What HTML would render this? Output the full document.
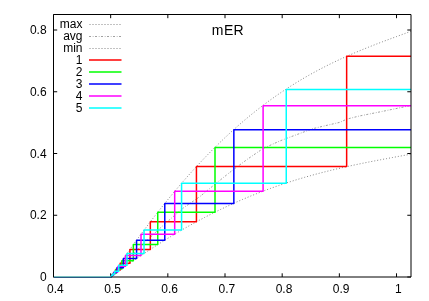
<!DOCTYPE html>
<html><head><meta charset="utf-8"><title>mER</title>
<style>
html,body{margin:0;padding:0;background:#fff;}
body{width:429px;height:301px;overflow:hidden;}
svg{display:block;will-change:transform;}
text{font-family:"Liberation Sans",sans-serif;fill:#000;}
</style></head><body>
<svg width="429" height="301" viewBox="0 0 429 301">
<rect width="429" height="301" fill="#fff"/>
<g stroke="#000" stroke-width="1" fill="none">
<path d="M53.50 277.00V273.30M53.50 14.50V18.20"/>
<path d="M110.67 277.00V273.30M110.67 14.50V18.20"/>
<path d="M167.84 277.00V273.30M167.84 14.50V18.20"/>
<path d="M225.01 277.00V273.30M225.01 14.50V18.20"/>
<path d="M282.18 277.00V273.30M282.18 14.50V18.20"/>
<path d="M339.35 277.00V273.30M339.35 14.50V18.20"/>
<path d="M396.52 277.00V273.30M396.52 14.50V18.20"/>
<path d="M53.50 277.00H57.20M411.00 277.00H407.30"/>
<path d="M53.50 215.25H57.20M411.00 215.25H407.30"/>
<path d="M53.50 153.50H57.20M411.00 153.50H407.30"/>
<path d="M53.50 91.75H57.20M411.00 91.75H407.30"/>
<path d="M53.50 30.00H57.20M411.00 30.00H407.30"/>
</g>
<g fill="none" stroke="#858585" stroke-width="1">
<polyline stroke-dasharray="1 2" points="53.50,277.00 110.70,277.00 112.70,274.06 114.70,271.14 116.70,268.23 118.70,265.34 120.70,262.46 122.70,259.60 124.70,256.75 126.70,253.93 128.70,251.11 130.70,248.32 132.70,245.54 134.70,242.78 136.70,240.03 138.70,237.31 140.70,234.60 142.70,231.91 144.70,229.23 146.70,226.58 148.70,223.94 150.70,221.32 152.70,218.72 154.70,216.14 156.70,213.57 158.70,211.03 160.70,208.50 162.70,205.99 164.70,203.50 166.70,201.03 168.70,198.58 170.70,196.15 172.70,193.73 174.70,191.34 176.70,188.97 178.70,186.61 180.70,184.28 182.70,181.96 184.70,179.67 186.70,177.39 188.70,175.13 190.70,172.90 192.70,170.68 194.70,168.49 196.70,166.31 198.70,164.15 200.70,162.02 202.70,159.90 204.70,157.80 206.70,155.73 208.70,153.67 210.70,151.63 212.70,149.62 214.70,147.62 216.70,145.64 218.70,143.69 220.70,141.75 222.70,139.84 224.70,137.94 226.70,136.06 228.70,134.21 230.70,132.37 232.70,130.55 234.70,128.76 236.70,126.98 238.70,125.22 240.70,123.48 242.70,121.76 244.70,120.07 246.70,118.39 248.70,116.73 250.70,115.08 252.70,113.46 254.70,111.86 256.70,110.28 258.70,108.71 260.70,107.16 262.70,105.64 264.70,104.13 266.70,102.64 268.70,101.16 270.70,99.71 272.70,98.27 274.70,96.86 276.70,95.45 278.70,94.07 280.70,92.71 282.70,91.36 284.70,90.03 286.70,88.72 288.70,87.42 290.70,86.14 292.70,84.88 294.70,83.63 296.70,82.40 298.70,81.19 300.70,79.99 302.70,78.80 304.70,77.64 306.70,76.48 308.70,75.35 310.70,74.23 312.70,73.12 314.70,72.03 316.70,70.95 318.70,69.88 320.70,68.83 322.70,67.80 324.70,66.77 326.70,65.76 328.70,64.76 330.70,63.78 332.70,62.81 334.70,61.84 336.70,60.90 338.70,59.96 340.70,59.03 342.70,58.12 344.70,57.21 346.70,56.32 348.70,55.44 350.70,54.57 352.70,53.70 354.70,52.85 356.70,52.00 358.70,51.17 360.70,50.34 362.70,49.52 364.70,48.71 366.70,47.90 368.70,47.10 370.70,46.31 372.70,45.53 374.70,44.75 376.70,43.98 378.70,43.21 380.70,42.45 382.70,41.70 384.70,40.94 386.70,40.20 388.70,39.45 390.70,38.71 392.70,37.97 394.70,37.24 396.70,36.50 398.70,35.77 400.70,35.04 402.70,34.31 404.70,33.59 406.70,32.86 408.70,32.13 410.70,31.40 411.00,31.29"/>
<polyline stroke="#a0a0a0" stroke-dasharray="2 1.75 0.75 1.5" points="53.50,277.00 110.70,277.00 112.70,274.88 114.70,272.78 116.70,270.68 118.70,268.60 120.70,266.53 122.70,264.47 124.70,262.42 126.70,260.39 128.70,258.36 130.70,256.35 132.70,254.35 134.70,252.36 136.70,250.39 138.70,248.42 140.70,246.47 142.70,244.53 144.70,242.61 146.70,240.70 148.70,238.80 150.70,236.91 152.70,235.04 154.70,233.18 156.70,231.33 158.70,229.50 160.70,227.68 162.70,225.87 164.70,224.08 166.70,222.30 168.70,220.54 170.70,218.79 172.70,217.05 174.70,215.32 176.70,213.62 178.70,211.92 180.70,210.24 182.70,208.57 184.70,206.92 189.90,203.50 200.00,196.50 215.00,184.20 233.70,169.30 248.00,158.80 263.40,148.30 280.00,140.90 286.00,138.60 313.00,128.60 330.00,124.60 340.00,122.30 346.80,119.10 359.40,116.00 382.40,111.40 410.80,105.50"/>
<polyline stroke-dasharray="1 2" points="53.50,277.00 110.70,277.00 112.70,275.53 114.70,274.07 116.70,272.61 118.70,271.17 120.70,269.73 122.70,268.30 124.70,266.88 126.70,265.46 128.70,264.06 130.70,262.66 132.70,261.27 134.70,259.89 136.70,258.52 138.70,257.15 140.70,255.80 142.70,254.45 144.70,253.12 146.70,251.79 148.70,250.47 150.70,249.16 152.70,247.86 154.70,246.57 156.70,245.29 158.70,244.01 160.70,242.75 162.70,241.49 164.70,240.25 166.70,239.01 168.70,237.79 170.70,236.57 172.70,235.37 174.70,234.17 176.70,232.98 178.70,231.81 180.70,230.64 182.70,229.48 184.70,228.33 186.70,227.20 188.70,226.07 190.70,224.95 192.70,223.84 194.70,222.74 196.70,221.65 198.70,220.58 200.70,219.51 202.70,218.45 204.70,217.40 206.70,216.36 208.70,215.33 210.70,214.32 212.70,213.31 214.70,212.31 216.70,211.32 218.70,210.34 220.70,209.38 222.70,208.42 224.70,207.47 226.70,206.53 228.70,205.60 230.70,204.69 232.70,203.78 234.70,202.88 236.70,201.99 238.70,201.11 240.70,200.24 242.70,199.38 244.70,198.53 246.70,197.69 248.70,196.86 250.70,196.04 252.70,195.23 254.70,194.43 256.70,193.64 258.70,192.85 260.70,192.08 262.70,191.32 264.70,190.56 266.70,189.82 268.70,189.08 270.70,188.35 272.70,187.64 274.70,186.93 276.70,186.23 278.70,185.54 280.70,184.85 282.70,184.18 284.70,183.51 286.70,182.86 288.70,182.21 290.70,181.57 292.70,180.94 294.70,180.31 296.70,179.70 298.70,179.09 300.70,178.49 302.70,177.90 304.70,177.32 306.70,176.74 308.70,176.17 310.70,175.61 312.70,175.06 314.70,174.51 316.70,173.97 318.70,173.44 320.70,172.92 322.70,172.40 324.70,171.89 326.70,171.38 328.70,170.88 330.70,170.39 332.70,169.90 334.70,169.42 336.70,168.95 338.70,168.48 340.70,168.02 342.70,167.56 344.70,167.11 346.70,166.66 348.70,166.22 350.70,165.78 352.70,165.35 354.70,164.92 356.70,164.50 358.70,164.08 360.70,163.67 362.70,163.26 364.70,162.85 366.70,162.45 368.70,162.05 370.70,161.66 372.70,161.27 374.70,160.88 376.70,160.49 378.70,160.11 380.70,159.73 382.70,159.35 384.70,158.97 386.70,158.60 388.70,158.23 390.70,157.86 392.70,157.49 394.70,157.12 396.70,156.75 398.70,156.39 400.70,156.02 402.70,155.66 404.70,155.29 406.70,154.93 408.70,154.56 410.70,154.20 411.00,154.15"/>
</g>
<g fill="none" stroke-width="1.5" stroke-linejoin="round">
<polyline stroke="#ff0000" points="110.20,277.00 110.99,277.00 110.99,276.57 111.29,276.57 111.29,276.14 111.87,276.14 111.87,275.27 113.05,275.27 113.05,273.55 115.41,273.55 115.41,270.10 120.18,270.10 120.18,263.20 129.92,263.20 129.92,249.40 150.33,249.40 150.33,221.80 196.43,221.80 196.43,166.60 346.65,166.60 346.65,56.20 411.00,56.20"/>
<polyline stroke="#00ff00" points="110.20,277.00 111.04,277.00 111.04,276.49 111.39,276.49 111.39,275.99 112.08,275.99 112.08,274.98 113.46,274.98 113.46,272.95 116.23,272.95 116.23,268.91 121.85,268.91 121.85,260.81 133.36,260.81 133.36,244.62 157.74,244.62 157.74,212.25 215.00,212.25 215.00,147.50 411.00,147.50"/>
<polyline stroke="#0000ff" points="110.20,277.00 111.09,277.00 111.09,276.43 111.48,276.43 111.48,275.85 112.26,275.85 112.26,274.70 113.83,274.70 113.83,272.40 117.00,272.40 117.00,267.80 123.40,267.80 123.40,258.60 136.58,258.60 136.58,240.20 164.78,240.20 164.78,203.40 233.85,203.40 233.85,129.80 411.00,129.80"/>
<polyline stroke="#ff00ff" points="110.20,277.00 111.15,277.00 111.15,276.33 111.61,276.33 111.61,275.66 112.52,275.66 112.52,274.32 114.35,274.32 114.35,271.65 118.04,271.65 118.04,266.29 125.52,266.29 125.52,255.59 141.01,255.59 141.01,234.18 174.69,234.18 174.69,191.35 263.10,191.35 263.10,105.70 411.00,105.70"/>
<polyline stroke="#00ffff" points="110.20,277.00 111.20,277.00 111.20,276.27 111.70,276.27 111.70,275.54 112.69,275.54 112.69,274.07 114.70,274.07 114.70,271.14 118.74,271.14 118.74,265.28 126.96,265.28 126.96,253.56 144.03,253.56 144.03,230.12 181.58,230.12 181.58,183.25 286.25,183.25 286.25,89.50 411.00,89.50"/>
</g>
<g stroke="#000" stroke-width="1" fill="none"><path d="M53.50 14.50H411.00V277.00H53.50Z"/></g>
<rect x="54" y="276" width="56.5" height="1" fill="#78bebe"/><rect x="54" y="277" width="56.5" height="1" fill="#285a82"/>
<g font-size="12px" text-anchor="end">
<text x="82.5" y="28.3">max</text>
<text x="82.5" y="40.3">avg</text>
<text x="82.5" y="52.3">min</text>
<text x="82.5" y="64.3">1</text>
<text x="82.5" y="76.3">2</text>
<text x="82.5" y="88.3">3</text>
<text x="82.5" y="100.3">4</text>
<text x="82.5" y="112.3">5</text>
</g>
<g fill="none" stroke="#858585" stroke-width="1">
<path stroke-dasharray="1 2" d="M89.5 24.5H121.5"/>
<path stroke="#a0a0a0" stroke-dasharray="2 1.75 0.75 1.5" d="M89 36.5H121.5"/>
<path stroke-dasharray="1 2" d="M89.5 48.5H121.5"/>
</g>
<g fill="none" stroke-width="1.5">
<path stroke="#ff0000" d="M89 60H121.5"/>
<path stroke="#00ff00" d="M89 72H121.5"/>
<path stroke="#0000ff" d="M89 84H121.5"/>
<path stroke="#ff00ff" d="M89 96H121.5"/>
<path stroke="#00ffff" d="M89 108H121.5"/>
</g>
<g font-size="12px" text-anchor="middle">
<text x="55.30" y="292.5">0.4</text>
<text x="112.47" y="292.5">0.5</text>
<text x="169.64" y="292.5">0.6</text>
<text x="226.81" y="292.5">0.7</text>
<text x="283.98" y="292.5">0.8</text>
<text x="341.15" y="292.5">0.9</text>
<text x="398.32" y="292.5">1</text>
</g>
<g font-size="12px" text-anchor="end">
<text x="46.6" y="281.20">0</text>
<text x="46.6" y="219.45">0.2</text>
<text x="46.6" y="157.70">0.4</text>
<text x="46.6" y="95.95">0.6</text>
<text x="46.6" y="34.20">0.8</text>
</g>
<text x="211.7 224.0 233.5" y="34.8" font-size="14px">mER</text>
</svg></body></html>
